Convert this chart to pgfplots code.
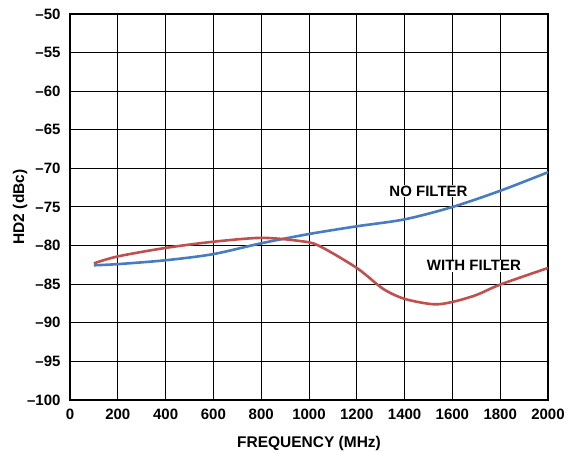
\documentclass[border=0pt]{standalone}
\usepackage{fontspec}
\setmainfont{Liberation Sans}
\usepackage{pgfplots}
\pgfplotsset{compat=1.18}
\definecolor{nofilter}{RGB}{70,125,192}
\definecolor{withfilter}{RGB}{192,80,77}
\begin{document}
\begin{tikzpicture}
\begin{axis}[
  scale only axis,
  width=478pt, height=386pt,
  xmin=0, xmax=2000, ymin=-100, ymax=-50,
  xtick={0,200,...,2000},
  ytick={-100,-95,...,-50},
  grid=major,
  major grid style={black, line width=1.0pt},
  axis line style={black, line width=1.6pt},
  major tick length=0pt,
  /pgf/number format/assume math mode=true,
  /pgf/number format/1000 sep={},
  ticklabel style={font=\fontsize{15}{17}\selectfont\bfseries},
  yticklabel={\bfseries\ifdim\tick pt<0pt –\pgfmathparse{-\tick}\pgfmathprintnumber[int detect]{\pgfmathresult}\else\pgfmathprintnumber[int detect]{\tick}\fi},
  xticklabel style={yshift=-6pt},
  yticklabel style={xshift=-6pt},
  xlabel={FREQUENCY (MHz)},
  ylabel={HD2 (dBc)},
  label style={font=\fontsize{15.5}{17}\selectfont\bfseries},
  xlabel style={yshift=-9pt},
  ylabel style={yshift=-7pt},
]
\addplot[nofilter, line width=2.6pt, smooth] coordinates {
(100,-82.55) (200,-82.4) (400,-81.9) (600,-81.1) (800,-79.7) (1000,-78.5)
(1200,-77.5) (1400,-76.6) (1600,-75.0) (1800,-72.9) (2000,-70.5)};
\addplot[withfilter, line width=2.6pt, smooth] coordinates {
(100,-82.3) (200,-81.4) (400,-80.3) (600,-79.5) (800,-79.0) (960,-79.4) (1040,-80.0)
(1200,-82.9) (1310,-85.6) (1400,-86.9) (1520,-87.6) (1600,-87.3) (1700,-86.4)
(1800,-85.05) (2000,-82.9)};
\node[font=\fontsize{15}{17}\selectfont\bfseries, fill=white, inner sep=1pt] at (axis cs:1500,-72.95) {NO FILTER};
\node[font=\fontsize{15}{17}\selectfont\bfseries, fill=white, inner sep=1pt] at (axis cs:1690,-82.6) {WITH FILTER};
\end{axis}
\pgfresetboundingbox
\path[use as bounding box] ([shift={(-70pt,-53pt)}]current axis.south west) rectangle ([shift={(25pt,14pt)}]current axis.north east);
\end{tikzpicture}
\end{document}
